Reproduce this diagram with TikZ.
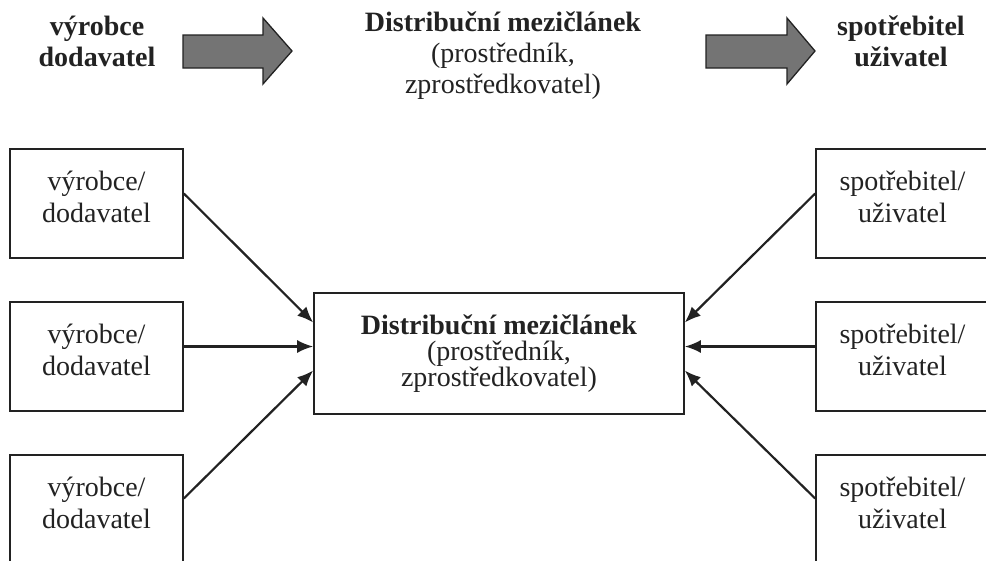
\documentclass[tikz,border=0pt]{standalone}
\usepackage{fontspec}
\setmainfont{Liberation Serif}
\usepackage{tikz}
\usetikzlibrary{arrows.meta}

\definecolor{ink}{HTML}{222222}
\definecolor{arrowgray}{HTML}{747474}

\begin{document}
\begin{tikzpicture}[x=1pt, y=1pt, node distance=153pt,
    box/.style={rectangle, draw=ink, line width=1.6pt, minimum width=173pt, minimum height=109pt, align=center, text=ink, font=\fontsize{28}{32}\selectfont},
    midbox/.style={box, minimum width=370pt, minimum height=121pt, font=\fontsize{28}{26}\selectfont},
    toplabel/.style={align=center, text=ink, font=\fontsize{28}{31}\selectfont},
    bigarrow/.style={draw=ink, line width=1.3pt, fill=arrowgray, line join=miter},
    link/.style={-{Latex[length=16pt,width=13pt]}, line width=2.2pt, draw=ink}]
     \useasboundingbox (0,0) rectangle (986,-560);

     % top row
     \node[toplabel] (vyr)  at (97,-41)  {\textbf{výrobce}\\\textbf{dodavatel}};
     \node[toplabel] (dist) at (503,-56) {\textbf{Distribuční mezičlánek}\\(prostředník,\\zprostředkovatel)};
     \node[toplabel] (spot) at (901,-41) {\textbf{spotřebitel}\\\textbf{uživatel}};
     \draw[bigarrow] (183,-35) -- (263,-35) -- (263,-18) -- (292,-51) -- (263,-84) -- (263,-68) -- (183,-68) -- cycle;
     \draw[bigarrow] (706,-35) -- (787,-35) -- (787,-18) -- (815,-51) -- (787,-84) -- (787,-68) -- (706,-68) -- cycle;

     % boxes
     \node[midbox] (mid) at (499,-353.5) {\textbf{Distribuční mezičlánek}\\(prostředník,\\zprostředkovatel)};
     \node[box] (vyr1) at (96.5,-203.5) {výrobce/\\dodavatel\\[-18pt]};
     \node[box, below of=vyr1] (vyr2) {výrobce/\\dodavatel\\[-18pt]};
     \node[box, below of=vyr2] (vyr3) {výrobce/\\dodavatel\\[-18pt]};
     \node[box] (spot1) at (902.5,-203.5) {spotřebitel/\\uživatel\\[-18pt]};
     \node[box, below of=spot1] (spot2) {spotřebitel/\\uživatel\\[-18pt]};
     \node[box, below of=spot2] (spot3) {spotřebitel/\\uživatel\\[-18pt]};

     \draw[link] ([yshift=10pt]vyr1.east) -- ([yshift=31pt]mid.west);
     \draw[link] ([yshift=10pt]vyr2.east) -- ([yshift=7pt]mid.west);
     \draw[link] ([yshift=11pt]vyr3.east) -- ([yshift=-17pt]mid.west);
     \draw[link] ([yshift=10pt]spot1.west) -- ([yshift=31pt]mid.east);
     \draw[link] ([yshift=10pt]spot2.west) -- ([yshift=7pt]mid.east);
     \draw[link] ([yshift=11pt]spot3.west) -- ([yshift=-17pt]mid.east);
\end{tikzpicture}
\end{document}
